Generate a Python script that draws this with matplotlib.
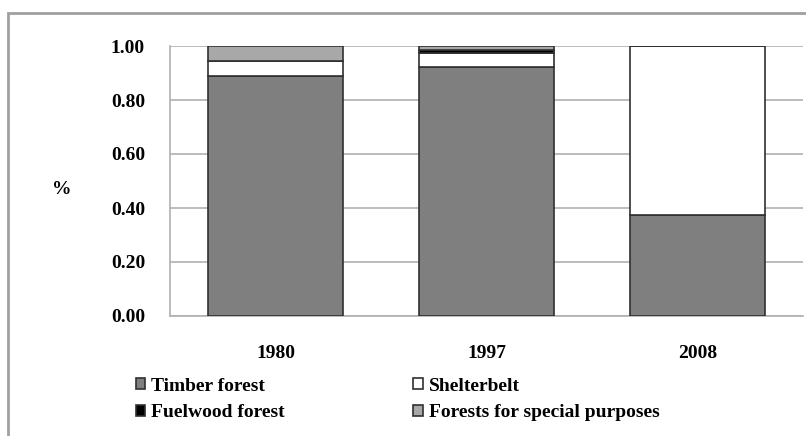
import matplotlib.pyplot as plt
from matplotlib.patches import Rectangle
import numpy as np

years = ['1980', '1997', '2008']
timber = [0.89, 0.922, 0.374]
shelterbelt = [0.053, 0.052, 0.626]
fuelwood = [0.0, 0.011, 0.0]
special = [0.057, 0.015, 0.0]

plt.rcParams['font.family'] = ['Liberation Serif', 'DejaVu Serif']
plt.rcParams['font.weight'] = 'bold'

fig = plt.figure(figsize=(8.06, 4.36), dpi=100)
ax = fig.add_axes([170 / 806, 120 / 436, 633 / 806, 270 / 436])

# 外枠
fig.patches.append(Rectangle((8 / 806, -0.1), 1.2, 1 - 13 / 436 + 0.1,
                             transform=fig.transFigure, fill=False,
                             edgecolor='#a0a0a0', linewidth=2, zorder=0))

x = np.arange(len(years))
w = 0.64
edge = dict(edgecolor='#303030', linewidth=1.2)
bottom = np.zeros(len(years))
series = [
    ('Timber forest', timber, '#7f7f7f'),
    ('Shelterbelt', shelterbelt, 'white'),
    ('Fuelwood forest', fuelwood, 'black'),
    ('Forests for special purposes', special, '#a8a8a8'),
]
handles = {}
for name, vals, col in series:
    vals = np.array(vals)
    b = ax.bar(x, vals, w, bottom=bottom, color=col, label=name, zorder=3, **edge)
    handles[name] = b
    bottom += vals

ax.set_xlim(-0.5, 2.5)
ax.set_ylim(0, 1)
ax.set_yticks(np.arange(0, 1.01, 0.2))
ax.set_yticklabels(['%.2f' % v for v in np.arange(0, 1.01, 0.2)])
ax.set_xticks(x)
ax.set_xticklabels(years)
ax.tick_params(axis='both', length=0, labelsize=14)
ax.tick_params(axis='y', pad=18)
ax.tick_params(axis='x', pad=21)
ax.grid(axis='y', color='#b0b0b0', linewidth=1.2, zorder=0)
for s in ['top', 'right']:
    ax.spines[s].set_visible(False)
for s in ['left', 'bottom']:
    ax.spines[s].set_color('#b0b0b0')
    ax.spines[s].set_linewidth(1.2)

fig.text(62 / 806, 1 - 190 / 436, '%', fontsize=14, fontweight='bold',
         ha='center', va='center')

order = ['Timber forest', 'Fuelwood forest', 'Shelterbelt', 'Forests for special purposes']
fig.legend([handles[n] for n in order], order, loc='upper left',
           bbox_to_anchor=(118 / 806, 1 - 360 / 436), ncol=2, frameon=False,
           fontsize=14, handlelength=0.5, handleheight=0.5, handletextpad=0.3,
           columnspacing=6.6, labelspacing=0.5)

fig.savefig('out.png', dpi=100)
